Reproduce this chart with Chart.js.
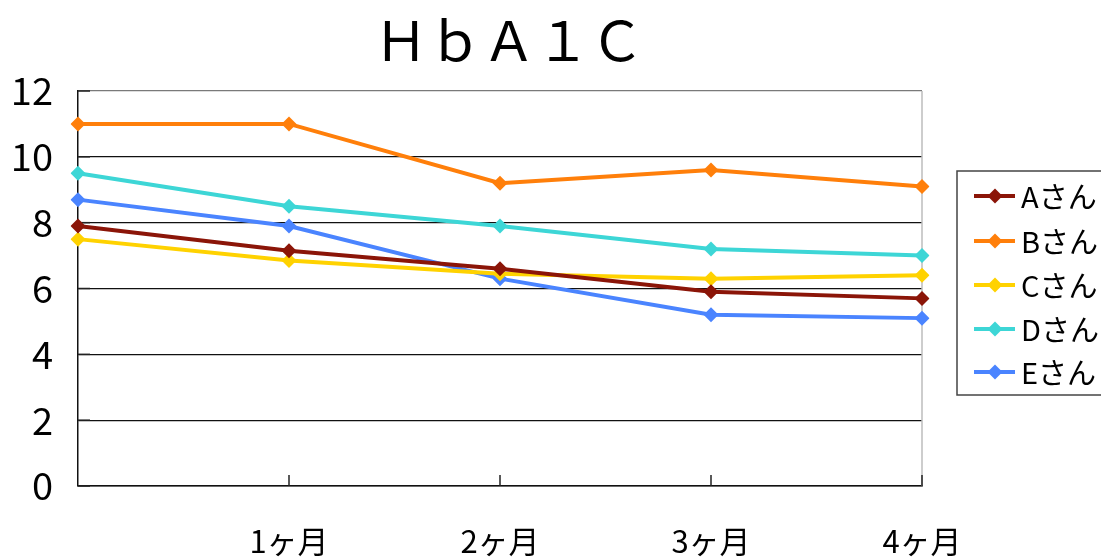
<!DOCTYPE html>
<html>
<head>
<meta charset="utf-8">
<script src="https://cdn.jsdelivr.net/npm/chart.js@4/dist/chart.umd.min.js"></script>
<style>
  html, body { margin: 0; padding: 0; background: #fff; }
  #wrap { width: 1101px; height: 558px; position: relative; }
</style>
</head>
<body>
<div id="wrap"><canvas id="c" width="1101" height="558"></canvas></div>
<script>
// Monthly HbA1c readings per person
const months = ['', '1ヶ月', '2ヶ月', '3ヶ月', '4ヶ月'];
const names = ['Aさん', 'Bさん', 'Cさん', 'Dさん', 'Eさん'];
const seriesA = [7.9, 7.15, 6.6, 5.9, 5.7];
const seriesB = [11.0, 11.0, 9.2, 9.6, 9.1];
const seriesC = [7.5, 6.85, 6.45, 6.3, 6.4];
const seriesD = [9.5, 8.5, 7.9, 7.2, 7.0];
const seriesE = [8.7, 7.9, 6.3, 5.2, 5.1];
const yTicks = [0, 2, 4, 6, 8, 10, 12];
const titleText = 'ＨｂＡ１Ｃ';

const colors = ['#8b1508', '#ff7f0a', '#ffd200', '#3dd6d6', '#4a84ff'];
const FONT = '"Noto Sans CJK JP", "Noto Sans", sans-serif';

const datasets = [seriesA, seriesB, seriesC, seriesD, seriesE].map((vals, i) => ({
  label: names[i],
  data: vals,
  borderColor: colors[i],
  backgroundColor: colors[i],
  borderWidth: 4,
  pointStyle: 'rectRot',
  pointRadius: 7.5,
  pointHoverRadius: 7.5,
  pointBorderWidth: 0,
  tension: 0,
  fill: false
}));

// Title, frame, inner tick marks and the boxed legend
const decor = {
  id: 'decor',
  beforeDatasetsDraw(chart) {
    const ctx = chart.ctx;
    const area = chart.chartArea;
    const xs = chart.scales.x, ys = chart.scales.y;
    ctx.save();
    // right frame
    ctx.strokeStyle = '#bdbdbd';
    ctx.lineWidth = 1.5;
    ctx.beginPath();
    ctx.moveTo(area.right, area.top);
    ctx.lineTo(area.right, area.bottom);
    ctx.stroke();
    // inner ticks
    ctx.strokeStyle = '#222';
    ctx.lineWidth = 1.5;
    for (let i = 1; i < months.length; i++) {
      const px = xs.getPixelForValue(i);
      ctx.beginPath();
      ctx.moveTo(px, area.bottom);
      ctx.lineTo(px, area.bottom - 11);
      ctx.stroke();
    }
    yTicks.forEach(v => {
      const py = ys.getPixelForValue(v);
      ctx.beginPath();
      ctx.moveTo(area.left, py);
      ctx.lineTo(area.left + 12, py);
      ctx.stroke();
    });
    ctx.restore();
  },
  afterDraw(chart) {
    const ctx = chart.ctx;
    ctx.save();
    // title
    ctx.fillStyle = '#000';
    ctx.font = '54px ' + FONT;
    ctx.textAlign = 'center';
    ctx.textBaseline = 'middle';
    ctx.fillText(titleText, 509, 40);

    // legend box
    const bx = 957, by = 171, bw = 200, bh = 224;
    ctx.strokeStyle = '#444';
    ctx.lineWidth = 1.5;
    ctx.strokeRect(bx, by, bw, bh);
    const rows = [196, 241, 285, 329, 372];
    ctx.font = '29px ' + FONT;
    ctx.textAlign = 'left';
    ctx.textBaseline = 'middle';
    chart.data.datasets.forEach((ds, i) => {
      const y = rows[i];
      ctx.strokeStyle = ds.borderColor;
      ctx.lineWidth = 4;
      ctx.beginPath();
      ctx.moveTo(974, y);
      ctx.lineTo(1015, y);
      ctx.stroke();
      ctx.fillStyle = ds.borderColor;
      ctx.beginPath();
      ctx.moveTo(995, y - 7.5);
      ctx.lineTo(1002.5, y);
      ctx.lineTo(995, y + 7.5);
      ctx.lineTo(987.5, y);
      ctx.closePath();
      ctx.fill();
      ctx.fillStyle = '#000';
      ctx.fillText(ds.label, 1021, y + 1);
    });
    ctx.restore();
  }
};

new Chart(document.getElementById('c'), {
  type: 'line',
  data: { labels: months, datasets },
  options: {
    responsive: false,
    animation: false,
    events: [],
    layout: { padding: { left: 0, top: 91, right: 179, bottom: 0 } },
    plugins: { legend: { display: false }, title: { display: false }, tooltip: { enabled: false } },
    scales: {
      x: {
        offset: false,
        grid: { display: false, drawTicks: false },
        border: { display: true, color: '#111', width: 1.5 },
        ticks: {
          color: '#000',
          font: { family: FONT, size: 31 },
          padding: 37,
          maxRotation: 0,
          autoSkip: false
        },
        afterFit(s) { s.height = 72; }
      },
      y: {
        min: 0,
        max: 12,
        afterBuildTicks(s) { s.ticks = yTicks.map(v => ({ value: v })); },
        grid: {
          color: ctx => (ctx.tick && ctx.tick.value === 12) ? '#7a7a7a' : '#111',
          lineWidth: 1.3,
          drawTicks: false
        },
        border: { display: true, color: '#111', width: 1.5 },
        ticks: {
          color: '#000',
          font: { family: FONT, size: 38 },
          padding: 25
        },
        afterFit(s) { s.width = 78; }
      }
    }
  },
  plugins: [decor]
});
</script>
</body>
</html>
